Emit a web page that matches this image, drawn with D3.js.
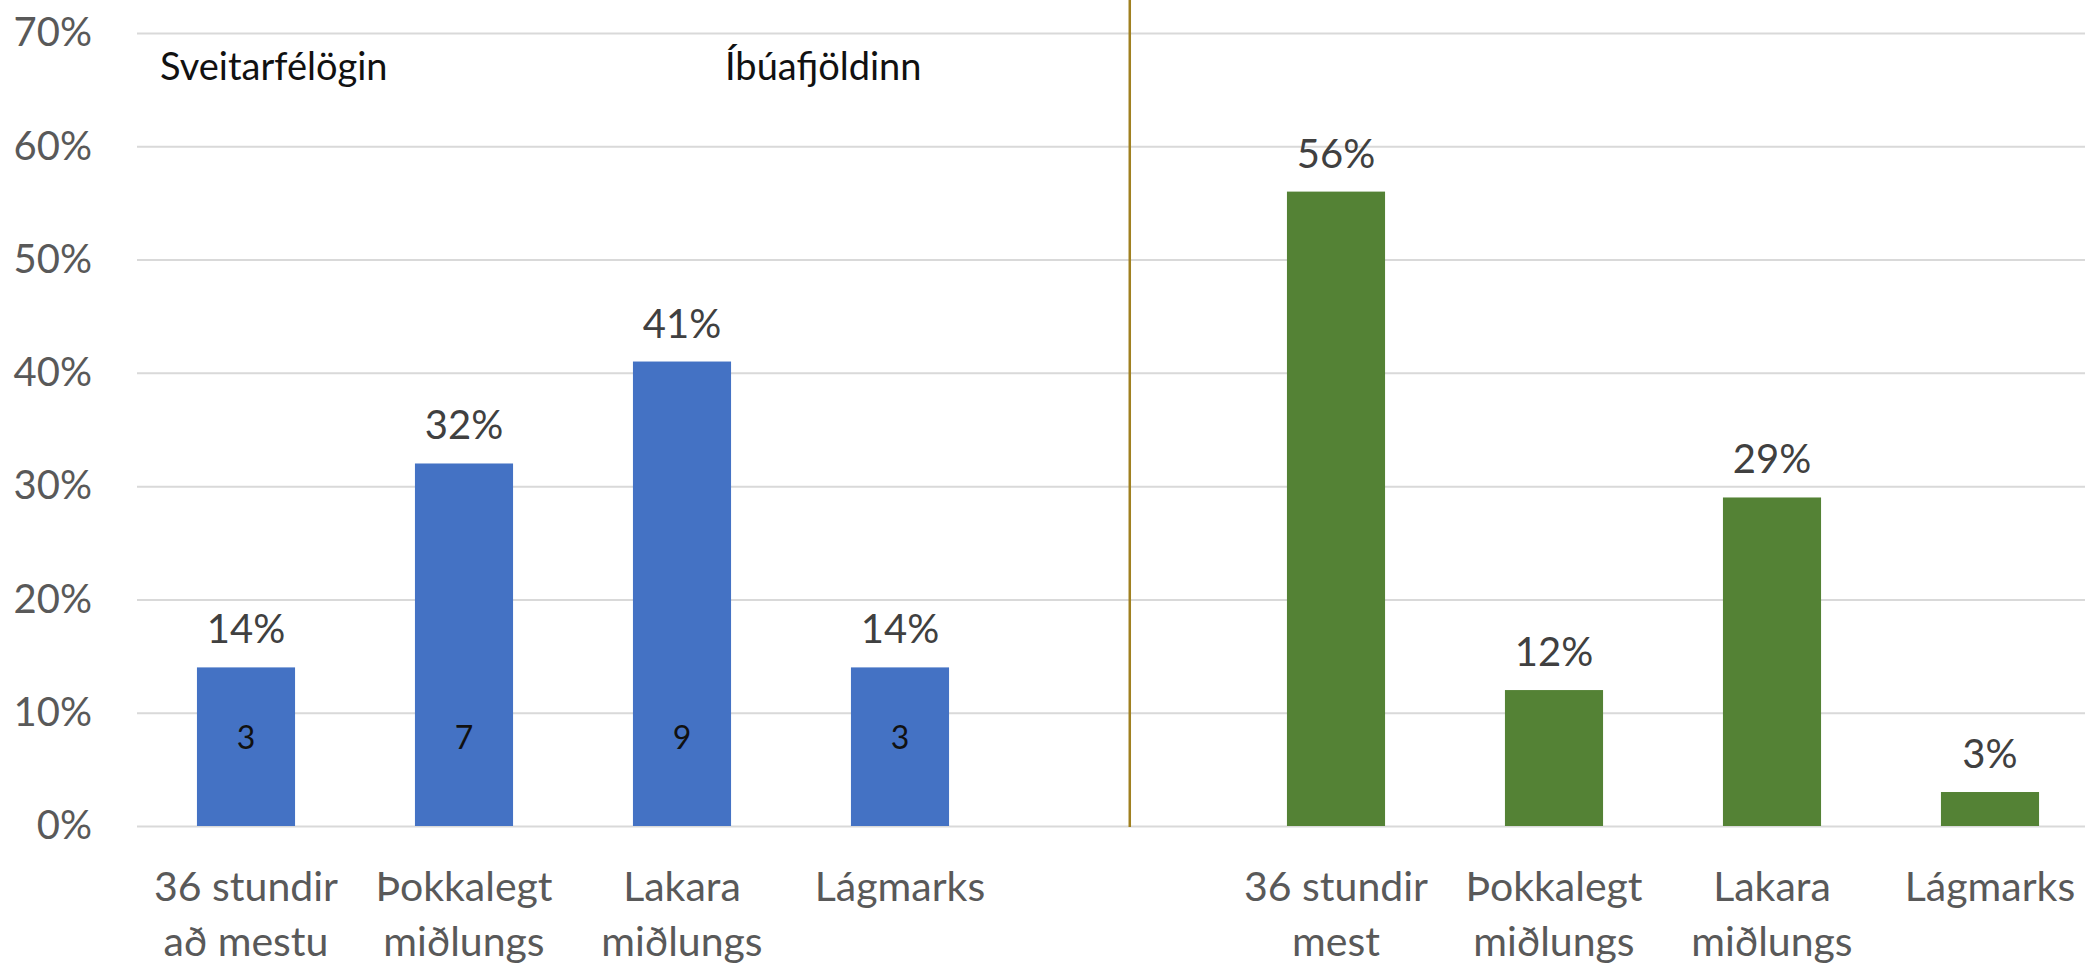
<!DOCTYPE html>
<html>
<head>
<meta charset="utf-8">
<script src="https://cdn.jsdelivr.net/npm/d3@7"></script>
<style>
  html, body { margin: 0; padding: 0; background: #fff; }
  svg { display: block; font-family: Lato, 'Open Sans', sans-serif; }
</style>
</head>
<body>
<svg></svg>
<script>
const width = 2085;
const height = 966;

// Sveitarfélögin (left group)
const leftCategories = [['36 stundir', 'að mestu'], ['Þokkalegt', 'miðlungs'], ['Lakara', 'miðlungs'], ['Lágmarks']];
const leftValues = [0.14, 0.32, 0.41, 0.14];
const leftCounts = [3, 7, 9, 3];

// Íbúafjöldinn (right group)
const rightCategories = [['36 stundir', 'mest'], ['Þokkalegt', 'miðlungs'], ['Lakara', 'miðlungs'], ['Lágmarks']];
const rightValues = [0.56, 0.12, 0.29, 0.03];

const yTicks = [0, 0.1, 0.2, 0.3, 0.4, 0.5, 0.6, 0.7];
const groupTitles = ['Sveitarfélögin', 'Íbúafjöldinn'];

const blue = '#4472c4';
const green = '#548235';

const plotLeft = 137;
const plotTop = 33;
const plotBottom = 826;

const svg = d3.select('svg')
    .attr('width', width)
    .attr('height', height);

// one band per category, with an empty slot between the two groups
const rows = [
    ...leftCategories.map((c, i) => ({ key: 'S' + i, label: c, value: leftValues[i], count: leftCounts[i], color: blue })),
    { key: 'gap', label: [], value: null },
    ...rightCategories.map((c, i) => ({ key: 'I' + i, label: c, value: rightValues[i], count: null, color: green }))
];
const bars = rows.filter(d => d.value !== null);

const x = d3.scaleBand()
    .domain(rows.map(d => d.key))
    .range([plotLeft, 2099])
    .paddingInner(0.55)
    .paddingOuter(0.275);

const y = d3.scaleLinear()
    .domain([0, 0.7])
    .range([plotBottom, plotTop]);

// y axis + gridlines
svg.append('g')
    .attr('transform', 'translate(' + plotLeft + ',0)')
    .call(d3.axisLeft(y)
        .tickValues(yTicks)
        .tickFormat(d3.format('.0%'))
        .tickSize(-(width - plotLeft))
        .tickPadding(45))
    .call(g => g.select('.domain').remove())
    .call(g => g.attr('font-family', null).attr('font-size', null))
    .call(g => g.selectAll('.tick line').attr('stroke', '#d9d9d9').attr('stroke-width', 2))
    .call(g => g.selectAll('.tick text').attr('fill', '#595959').style('font-size', '40px'));

// divider between the groups
const dividerX = x('gap') + x.bandwidth() * 0.62;
svg.append('line')
    .attr('x1', dividerX)
    .attr('x2', dividerX)
    .attr('y1', 0)
    .attr('y2', y(0) + 1)
    .attr('stroke', '#a08020')
    .attr('stroke-width', 2.5);

svg.selectAll('rect.bar')
    .data(bars)
    .enter()
    .append('rect')
    .attr('class', 'bar')
    .attr('x', d => x(d.key))
    .attr('y', d => y(d.value))
    .attr('width', x.bandwidth())
    .attr('height', d => y(0) - y(d.value))
    .attr('fill', d => d.color);

// percentage labels
svg.selectAll('text.value')
    .data(bars)
    .enter()
    .append('text')
    .attr('class', 'value')
    .attr('x', d => x(d.key) + x.bandwidth() / 2)
    .attr('y', d => y(d.value) - 24)
    .attr('text-anchor', 'middle')
    .attr('fill', '#404040')
    .style('font-size', '40px')
    .text(d => d3.format('.0%')(d.value));

// counts inside the blue bars
svg.selectAll('text.count')
    .data(bars.filter(d => d.count !== null))
    .enter()
    .append('text')
    .attr('class', 'count')
    .attr('x', d => x(d.key) + x.bandwidth() / 2)
    .attr('y', y(0.1) + 36)
    .attr('text-anchor', 'middle')
    .attr('fill', '#111')
    .style('font-size', '32px')
    .text(d => d.count);

// category labels
const cats = svg.selectAll('text.cat')
    .data(bars)
    .enter()
    .append('text')
    .attr('class', 'cat')
    .attr('x', d => x(d.key) + x.bandwidth() / 2)
    .attr('y', plotBottom + 75)
    .attr('text-anchor', 'middle')
    .attr('fill', '#595959')
    .style('font-size', '41px');

cats.selectAll('tspan')
    .data(d => d.label.map(t => ({ t: t, cx: x(d.key) + x.bandwidth() / 2 })))
    .enter()
    .append('tspan')
    .attr('x', d => d.cx)
    .attr('dy', (d, i) => i === 0 ? 0 : 55)
    .text(d => d.t);

// group titles
svg.selectAll('text.title')
    .data(groupTitles)
    .enter()
    .append('text')
    .attr('class', 'title')
    .attr('x', (d, i) => i === 0 ? 160 : 725)
    .attr('y', 80)
    .attr('fill', '#111')
    .style('font-size', '38px')
    .text(d => d);
</script>
</body>
</html>
